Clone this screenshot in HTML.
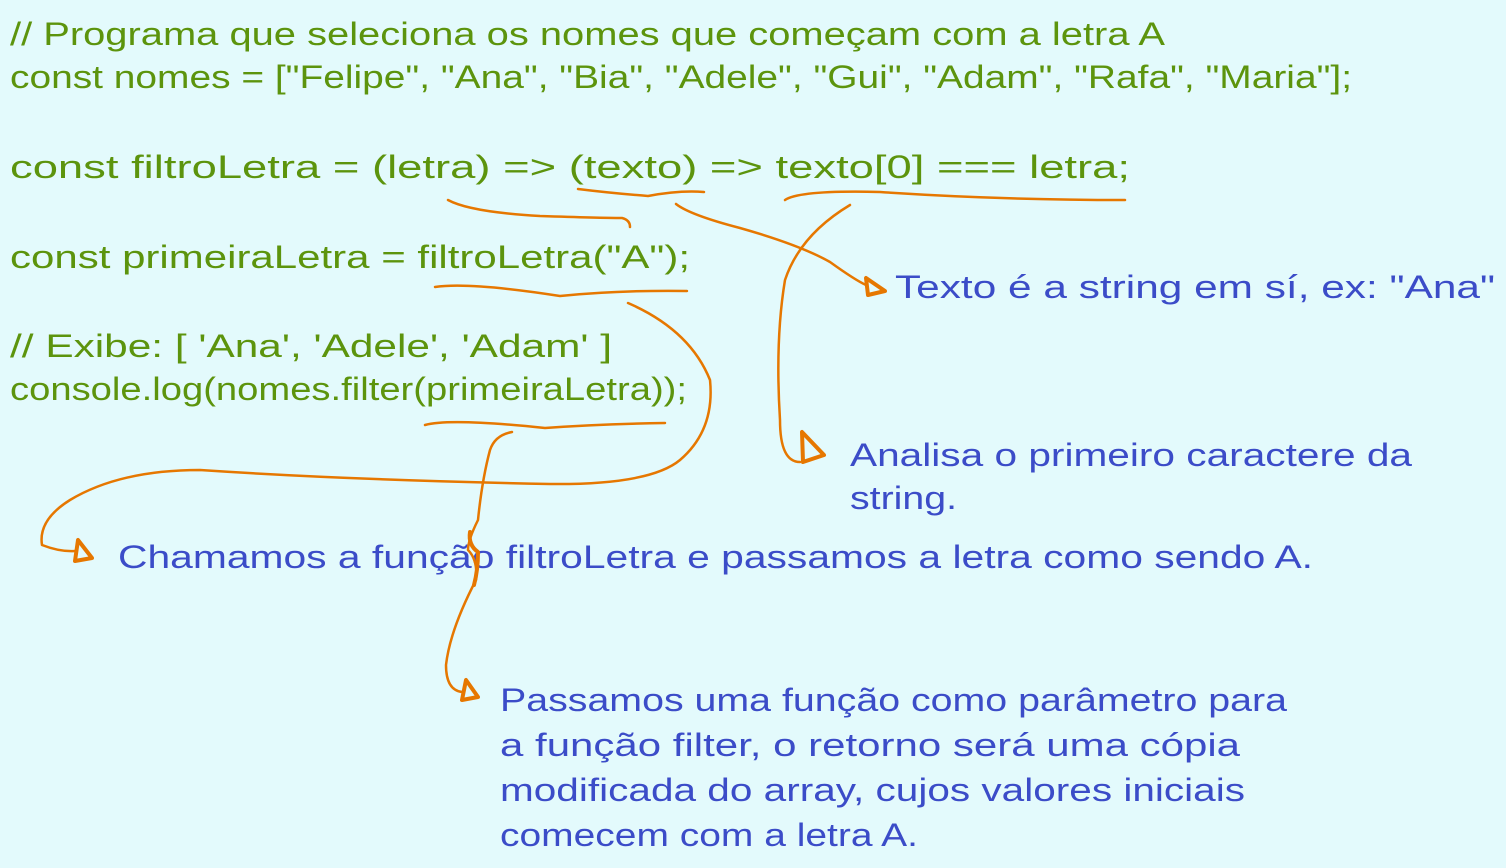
<!DOCTYPE html>
<html><head><meta charset="utf-8"><style>
html,body{margin:0;padding:0;background:#e3fafc;}
svg{display:block}
text{font-family:"Liberation Sans",sans-serif;font-size:32px;}
.g{fill:#5c940d}.b{fill:#3b4cc8}
path{fill:none;stroke:#e67700;stroke-width:2.5;stroke-linecap:round;stroke-linejoin:round}
.ah{stroke-width:4}
</style></head><body>
<svg width="1506" height="868" viewBox="0 0 1506 868" xmlns="http://www.w3.org/2000/svg">
<rect width="1506" height="868" fill="#e3fafc"/>
<text class="g" x="10" y="45" textLength="1155" lengthAdjust="spacingAndGlyphs">// Programa que seleciona os nomes que começam com a letra A</text>
<text class="g" x="10" y="88" textLength="1342" lengthAdjust="spacingAndGlyphs">const nomes = ["Felipe", "Ana", "Bia", "Adele", "Gui", "Adam", "Rafa", "Maria"];</text>
<text class="g" x="10" y="178" textLength="1120" lengthAdjust="spacingAndGlyphs">const filtroLetra = (letra) =&gt; (texto) =&gt; texto[0] === letra;</text>
<text class="g" x="10" y="268" textLength="680" lengthAdjust="spacingAndGlyphs">const primeiraLetra = filtroLetra("A");</text>
<text class="g" x="10" y="357" textLength="602" lengthAdjust="spacingAndGlyphs">// Exibe: [ 'Ana', 'Adele', 'Adam' ]</text>
<text class="g" x="10" y="400" textLength="677" lengthAdjust="spacingAndGlyphs">console.log(nomes.filter(primeiraLetra));</text>

<text class="b" x="895" y="298" textLength="600" lengthAdjust="spacingAndGlyphs">Texto é a string em sí, ex: "Ana"</text>
<text class="b" x="850" y="466" textLength="562" lengthAdjust="spacingAndGlyphs">Analisa o primeiro caractere da</text>
<text class="b" x="850" y="509" textLength="107" lengthAdjust="spacingAndGlyphs">string.</text>
<text class="b" x="118" y="568" textLength="1195" lengthAdjust="spacingAndGlyphs">Chamamos a função filtroLetra e passamos a letra como sendo A.</text>
<text class="b" x="500" y="711" textLength="787" lengthAdjust="spacingAndGlyphs">Passamos uma função como parâmetro para</text>
<text class="b" x="500" y="756" textLength="740" lengthAdjust="spacingAndGlyphs">a função filter, o retorno será uma cópia</text>
<text class="b" x="500" y="801" textLength="745" lengthAdjust="spacingAndGlyphs">modificada do array, cujos valores iniciais</text>
<text class="b" x="500" y="846" textLength="418" lengthAdjust="spacingAndGlyphs">comecem com a letra A.</text>

<path d="M448 200 Q470 212 540 216 Q600 218 622 218 Q630 220 630 227"/>
<path d="M578 189 Q610 193 648 196 Q680 190 704 192"/>
<path d="M785 200 Q800 190 880 192 Q1000 200 1125 200"/>
<path d="M435 287 Q470 282 560 296 Q620 290 687 291"/>
<path d="M425 425 Q450 418 545 428 Q600 424 665 423"/>

<path d="M676 204 Q690 215 740 228 Q800 245 830 262 Q855 280 866 285"/>
<path class="ah" d="M866 278 L868 295 L885 291 Z"/>
<path d="M850 205 Q800 235 785 280 Q775 340 780 420 Q780 462 800 462"/>
<path class="ah" d="M802 432 L803 462 L824 455 Z"/>
<path d="M628 303 Q690 330 710 380 Q715 430 680 460 Q650 485 550 484 Q350 480 200 470 Q120 470 70 500 Q38 520 42 545 Q60 552 75 551"/>
<path class="ah" d="M78 540 L75 561 L92 558 Z"/>
<path d="M512 432 Q495 435 490 450 Q482 480 478 520 Q468 540 468 550 Q478 560 476 580 Q450 630 446 665 Q446 690 462 692"/>
<path class="ah" d="M466 680 L462 700 L478 697 Z"/>
<path class="ah" d="M470 532 Q468 545 478 552 Q478 570 474 585"/>
</svg>
</body></html>
